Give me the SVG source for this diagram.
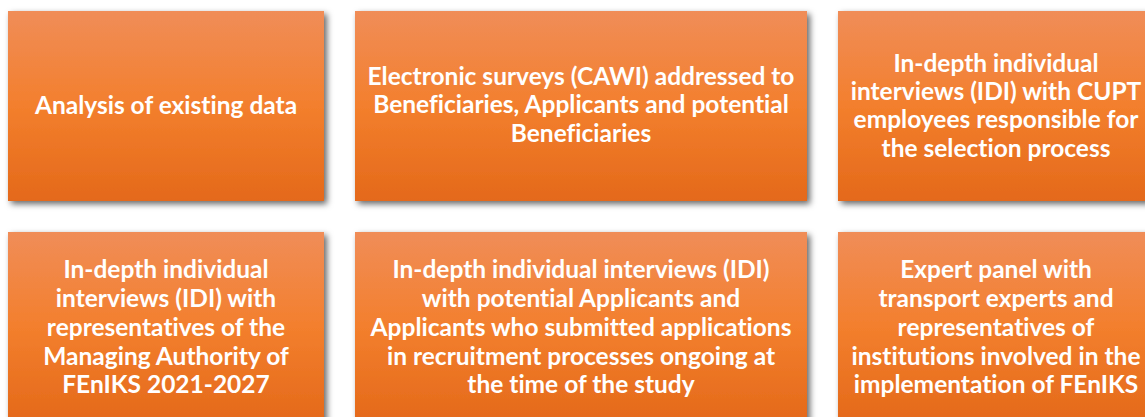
<svg xmlns="http://www.w3.org/2000/svg" width="1145" height="417" viewBox="0 0 1145 417">
  <defs>
    <linearGradient id="boxFill" x1="0" y1="0" x2="0" y2="1">
      <stop offset="0" stop-color="#f08d58"/>
      <stop offset="0.5" stop-color="#f37f2d"/>
      <stop offset="1" stop-color="#e4691a"/>
    </linearGradient>
    <filter id="shadow" x="-10%" y="-10%" width="125%" height="130%">
      <feDropShadow dx="3" dy="3" stdDeviation="3" flood-color="#000" flood-opacity="0.6"/>
    </filter>
  </defs>
  <style>
    .box { fill: url(#boxFill); filter: url(#shadow); }
    .label { fill: #ffffff; font-family: Lato, "Open Sans", "Liberation Sans", sans-serif; font-weight: bold; font-size: 24.5px; text-anchor: middle; font-variant-ligatures: none; }
  </style>
  <rect width="1145" height="417" fill="#ffffff"/>

  <g id="node-existing-data">
    <rect class="box" x="8" y="11" width="316" height="190"/>
    <text class="label" x="166" y="114">Analysis of existing data</text>
  </g>

  <g id="node-cawi">
    <rect class="box" x="355" y="11" width="452" height="190"/>
    <text class="label" x="581" y="85">Electronic surveys (CAWI) addressed to</text>
    <text class="label" x="581" y="113">Beneficiaries, Applicants and potential</text>
    <text class="label" x="581" y="142">Beneficiaries</text>
  </g>

  <g id="node-idi-cupt">
    <rect class="box" x="838" y="11" width="316" height="190"/>
    <text class="label" x="996" y="72">In-depth individual</text>
    <text class="label" x="996" y="100">interviews (IDI) with CUPT</text>
    <text class="label" x="996" y="128">employees responsible for</text>
    <text class="label" x="996" y="157">the selection process</text>
  </g>

  <g id="node-idi-authority">
    <rect class="box" x="8" y="232" width="316" height="190"/>
    <text class="label" x="166" y="278">In-depth individual</text>
    <text class="label" x="166" y="307">interviews (IDI) with</text>
    <text class="label" x="166" y="336">representatives of the</text>
    <text class="label" x="166" y="365">Managing Authority of</text>
    <text class="label" x="166" y="393">FEnIKS 2021-2027</text>
  </g>

  <g id="node-idi-applicants">
    <rect class="box" x="355" y="232" width="452" height="190"/>
    <text class="label" x="581" y="278">In-depth individual interviews (IDI)</text>
    <text class="label" x="581" y="307">with potential Applicants and</text>
    <text class="label" x="581" y="336">Applicants who submitted applications</text>
    <text class="label" x="581" y="365">in recruitment processes ongoing at</text>
    <text class="label" x="581" y="393">the time of the study</text>
  </g>

  <g id="node-expert-panel">
    <rect class="box" x="838" y="232" width="316" height="190"/>
    <text class="label" x="996" y="278">Expert panel with</text>
    <text class="label" x="996" y="307">transport experts and</text>
    <text class="label" x="996" y="336">representatives of</text>
    <text class="label" x="996" y="365">institutions involved in the</text>
    <text class="label" x="996" y="393">implementation of FEnIKS</text>
  </g>

  <g id="connectors"></g>
</svg>
